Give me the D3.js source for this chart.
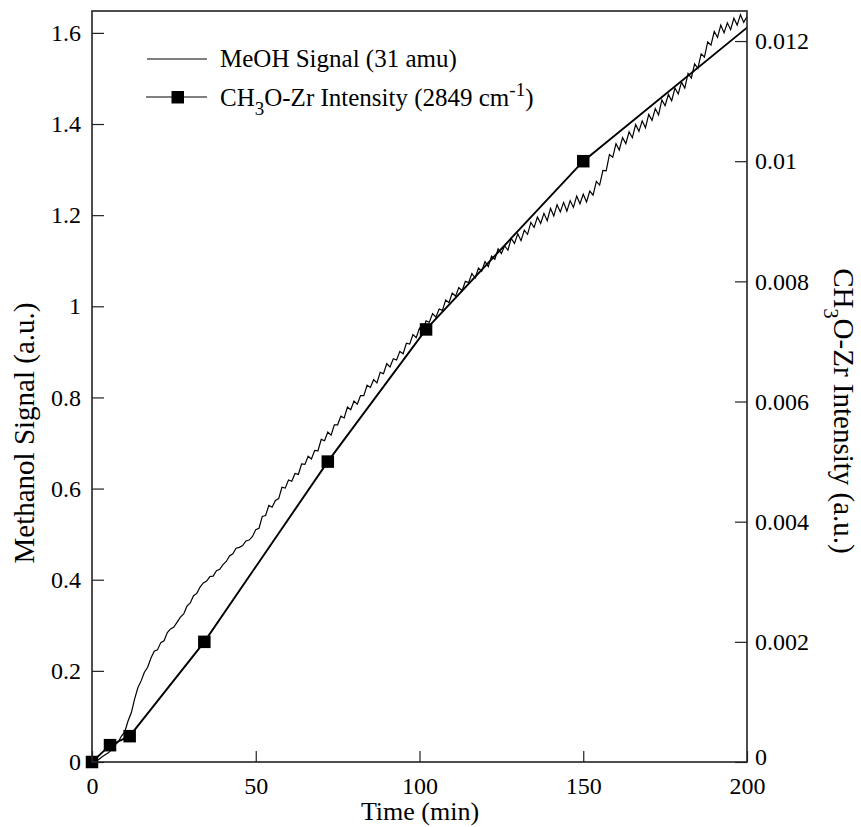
<!DOCTYPE html>
<html><head><meta charset="utf-8">
<script src="https://cdn.jsdelivr.net/npm/d3@7"></script>
<style>body{margin:0;background:#fff}svg text{font-family:"Liberation Serif","Times New Roman",Times,serif;fill:#000}</style>
</head><body><svg id="c" width="861" height="827"></svg>
<script>
// MeOH signal (31 amu), one reading per minute, 0..200 min
const meohTime = d3.range(0, 201, 1);
const meohSignal = [
0.000,0.004,0.005,0.011,0.016,0.020,0.027,0.037,0.044,0.057,
0.066,0.090,0.108,0.138,0.163,0.178,0.197,0.208,0.228,0.243,
0.246,0.262,0.266,0.284,0.292,0.296,0.307,0.318,0.325,0.342,
0.349,0.365,0.370,0.384,0.393,0.397,0.407,0.408,0.420,0.423,
0.433,0.440,0.452,0.457,0.469,0.471,0.475,0.485,0.487,0.495,
0.510,0.513,0.539,0.541,0.563,0.559,0.574,0.578,0.603,0.601,
0.619,0.616,0.633,0.631,0.654,0.653,0.671,0.665,0.684,0.683,
0.708,0.705,0.724,0.717,0.740,0.740,0.759,0.755,0.779,0.773,
0.792,0.785,0.804,0.804,0.827,0.822,0.839,0.832,0.855,0.852,
0.874,0.867,0.885,0.882,0.901,0.896,0.919,0.917,0.938,0.931,
0.952,0.945,0.968,0.965,0.984,0.976,0.994,0.991,1.014,1.008,
1.029,1.022,1.041,1.034,1.055,1.052,1.072,1.062,1.084,1.077,
1.098,1.087,1.110,1.103,1.126,1.116,1.133,1.123,1.149,1.138,
1.159,1.144,1.167,1.158,1.184,1.173,1.196,1.182,1.204,1.188,
1.215,1.198,1.223,1.207,1.228,1.209,1.232,1.217,1.242,1.225,
1.246,1.229,1.253,1.244,1.274,1.266,1.298,1.297,1.333,1.327,
1.357,1.343,1.370,1.357,1.383,1.370,1.399,1.384,1.407,1.392,
1.421,1.408,1.434,1.420,1.453,1.440,1.465,1.451,1.479,1.466,
1.492,1.479,1.511,1.501,1.532,1.522,1.554,1.547,1.580,1.573,
1.603,1.590,1.617,1.600,1.622,1.607,1.632,1.617,1.640,1.623,
1.636];
// CH3O-Zr intensity (2849 cm-1)
const irTime = [0, 5.5, 11.5, 34.3, 72, 102, 150, 215];
const irIntensity = [0, 0.00028, 0.00043, 0.0020, 0.0050, 0.0072, 0.0100, 0.01289];
const xTicks = [0, 50, 100, 150, 200];
const yLeftTicks = [0, 0.2, 0.4, 0.6, 0.8, 1, 1.2, 1.4, 1.6];
const yRightTicks = [0, 0.002, 0.004, 0.006, 0.008, 0.01, 0.012];

const L = 92, R = 747, T = 11, B = 762;
const svg = d3.select("#c");
const x = d3.scaleLinear().domain([0, 200]).range([L, R]);
const yL = d3.scaleLinear().domain([0, 1.648]).range([B, T]);
const yR = d3.scaleLinear().domain([0, 0.0125]).range([B, T]);

svg.append("defs").append("clipPath").attr("id", "clip")
  .append("rect").attr("x", L).attr("y", T).attr("width", R - L).attr("height", B - T);

const plot = svg.append("g").attr("clip-path", "url(#clip)");
const meoh = meohTime.map((t, i) => [t, meohSignal[i]]);
plot.append("path").datum(meoh)
  .attr("d", d3.line().x(d => x(d[0])).y(d => yL(d[1])))
  .attr("fill", "none").attr("stroke", "#000").attr("stroke-width", 1.2);

const ir = irTime.map((t, i) => [t, irIntensity[i]]);
plot.append("path").datum(ir)
  .attr("d", d3.line().x(d => x(d[0])).y(d => yR(d[1])))
  .attr("fill", "none").attr("stroke", "#000").attr("stroke-width", 1.9);
const ms = 12.5;
svg.append("g").selectAll("rect").data(ir.filter(d => d[0] <= 200)).join("rect")
  .attr("x", d => x(d[0]) - ms / 2).attr("y", d => yR(d[1]) - ms / 2)
  .attr("width", ms).attr("height", ms).attr("fill", "#000");

// axes (ticks inward)
const fs = "24px";
const gB = svg.append("g").attr("transform", `translate(0,${B})`)
  .call(d3.axisBottom(x).tickValues(xTicks).tickSizeInner(-11).tickSizeOuter(0).tickPadding(15).tickFormat(d3.format("d")));
const gL = svg.append("g").attr("transform", `translate(${L},0)`)
  .call(d3.axisLeft(yL).tickValues(yLeftTicks).tickSizeInner(-12).tickSizeOuter(0).tickPadding(11).tickFormat(d => String(+d.toFixed(1))));
const gR = svg.append("g").attr("transform", `translate(${R},0)`)
  .call(d3.axisRight(yR).tickValues(yRightTicks).tickSizeInner(-12).tickSizeOuter(0).tickPadding(8).tickFormat(d => String(+d.toFixed(3))));
[gB, gL, gR].forEach(g => {
  g.select(".domain").remove();
  g.selectAll("line").attr("stroke", "#222").attr("stroke-width", 1.2);
  g.selectAll("text").style("font-size", fs).style("font-family", '"Liberation Serif","Times New Roman",serif').attr("fill", "#000");
});
gR.selectAll(".tick").filter(d => d === 0).select("text").attr("dy", "0.1em");

// frame
svg.append("rect").attr("x", L).attr("y", T).attr("width", R - L).attr("height", B - T)
  .attr("fill", "none").attr("stroke", "#222").attr("stroke-width", 1.6);

// axis titles
svg.append("text").attr("x", 420).attr("y", 820).attr("text-anchor", "middle").style("font-size", "26px").text("Time (min)");
svg.append("text").attr("transform", "translate(34,433) rotate(-90)").attr("text-anchor", "middle").style("font-size", "29px").text("Methanol Signal (a.u.)");
const rt = svg.append("text").attr("transform", "translate(834,411) rotate(90)").attr("text-anchor", "middle").style("font-size", "29px");
rt.append("tspan").text("CH");
rt.append("tspan").attr("dy", "10").style("font-size", "20px").text("3");
rt.append("tspan").attr("dy", "-10").text("O-Zr Intensity (a.u.)");

// legend
const lg = svg.append("g");
lg.append("line").attr("x1", 147).attr("x2", 207).attr("y1", 59).attr("y2", 59).attr("stroke", "#000").attr("stroke-width", 1);
lg.append("text").attr("x", 220).attr("y", 67).style("font-size", "25px").text("MeOH Signal (31 amu)");
lg.append("line").attr("x1", 146).attr("x2", 207).attr("y1", 97).attr("y2", 97).attr("stroke", "#000").attr("stroke-width", 1);
lg.append("rect").attr("x", 171.5).attr("y", 91).attr("width", 12.5).attr("height", 12.5).attr("fill", "#000");
const t2 = lg.append("text").attr("x", 220).attr("y", 106).style("font-size", "25px");
t2.append("tspan").text("CH");
t2.append("tspan").attr("dy", "9").style("font-size", "19px").text("3");
t2.append("tspan").attr("dy", "-9").text("O-Zr Intensity (2849 cm");
t2.append("tspan").attr("dy", "-10").style("font-size", "19px").text("-1");
t2.append("tspan").attr("dy", "10").text(")");
</script></body></html>
